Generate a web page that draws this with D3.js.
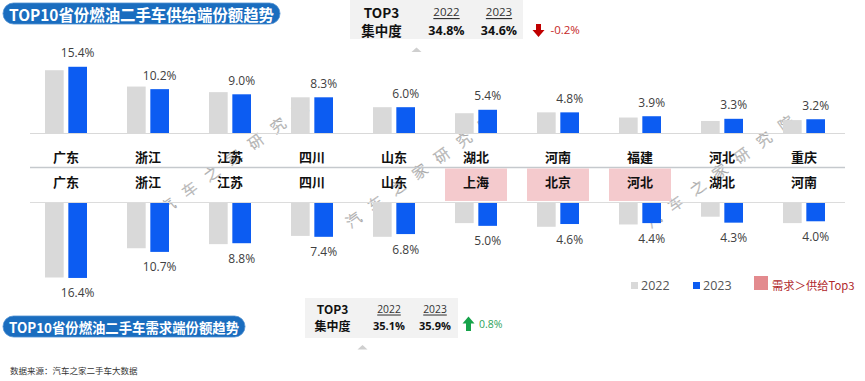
<!DOCTYPE html>
<html><head><meta charset="utf-8">
<script src="https://cdn.jsdelivr.net/npm/d3@7"></script>
<style>html,body{margin:0;padding:0;background:#fff;} svg{display:block;}</style>
</head><body><svg id="c" width="865" height="381"></svg>
<script>
// ---- data ----
const supplyCategories = ["广东","浙江","江苏","四川","山东","湖北","河南","福建","河北","重庆"];
const supply2022 = [14.6, 10.8, 9.5, 8.3, 6.0, 4.6, 4.8, 3.6, 2.8, 3.0];
const supply2023 = [15.4, 10.2, 9.0, 8.3, 6.0, 5.4, 4.8, 3.9, 3.3, 3.2];
const demandCategories = ["广东","浙江","江苏","四川","山东","上海","北京","河北","湖北","河南"];
const demand2022 = [16.3, 9.9, 9.0, 7.2, 7.4, 4.4, 5.2, 4.7, 3.0, 4.4];
const demand2023 = [16.4, 10.7, 8.8, 7.4, 6.8, 5.0, 4.6, 4.4, 4.3, 4.0];
const highlightDemand = ["上海","北京","河北"];
const seriesNames = ["2022","2023"];
const supplyTop3 = ["34.8%","34.6%"];
const supplyTop3Change = "-0.2%";
const demandTop3 = ["35.1%","35.9%"];
const demandTop3Change = "0.8%";
const titleSupply = "TOP10省份燃油二手车供给端份额趋势";
const titleDemand = "TOP10省份燃油二手车需求端份额趋势";
const sourceText = "数据来源：汽车之家二手车大数据";
const legendHighlight = "需求＞供给Top3";
const watermarkText = "汽车之家研究院";

const colors = {"2022":"#d9d9d9","2023":"#0c5cf2"};
const NUM = "'Open Sans','Noto Sans',sans-serif";
const CJK = "'Noto Sans CJK SC','Noto Sans',sans-serif";

const svg = d3.select("#c");
svg.append("rect").attr("width",865).attr("height",381).attr("fill","#fff");

const x0 = d3.scaleBand().domain(d3.range(10)).range([25,845]).paddingInner(40/82).paddingOuter(20/82);
const x1 = d3.scaleBand().domain(seriesNames).range([0,x0.bandwidth()]).paddingInner(0.2);
const yTop = d3.scaleLinear().domain([0,16]).range([133, 133-4.3*16]);
const yBot = d3.scaleLinear().domain([0,16]).range([203, 203+4.57*16]);

// ---- watermarks ----
const wm = svg.append("g").attr("class","watermark");
[[167,205],[353,219],[653,219]].forEach(([sx,sy])=>{
  const ang = -36*Math.PI/180;
  const g = wm.append("g");
  Array.from(watermarkText).forEach((ch,k)=>{
    const px = sx + Math.cos(ang)*27.3*k, py = sy + Math.sin(ang)*27.3*k;
    g.append("text").attr("x",px).attr("y",py)
      .attr("transform",`rotate(-36,${px},${py})`)
      .attr("text-anchor","middle").attr("dominant-baseline","central")
      .attr("font-family",CJK).attr("font-size",15).attr("font-weight",300)
      .attr("fill","none").attr("stroke","#a8a8a8").attr("stroke-width",0.5)
      .text(ch);
  });
});

// ---- title badges ----
function badge(x,y,w,h,txt,fs,tl){
  svg.append("rect").attr("x",x).attr("y",y).attr("width",w).attr("height",h)
    .attr("rx",h/2).attr("fill","#1a6dbf").attr("stroke","#4f8fd0").attr("stroke-width",0.8);
  svg.append("text").attr("x",x+w/2).attr("y",y+h/2+0.5).attr("text-anchor","middle")
    .attr("dominant-baseline","central").attr("font-family",CJK).attr("font-weight","bold")
    .attr("font-size",fs).attr("fill","#fff")
    .attr("textLength",tl).attr("lengthAdjust","spacingAndGlyphs").text(txt);
}
badge(3,3,277,21,titleSupply,16,265);
badge(3,316,242,21,titleDemand,14,230);

// ---- TOP3 boxes ----
function top3Box(o){
  svg.append("rect").attr("x",o.x).attr("y",o.y).attr("width",o.w).attr("height",o.h).attr("fill","#f2f2f2");
  const t = (x,y,s,opts={})=>svg.append("text").attr("x",x).attr("y",y).attr("text-anchor","middle")
    .attr("dominant-baseline","central").attr("font-family",opts.ff||CJK)
    .attr("font-weight",opts.fw||"bold").attr("font-size",opts.fs).attr("fill",opts.fill||"#111")
    .attr("text-decoration",opts.td||null).text(s);
  t(o.cx[0],o.r1,"TOP3",{fs:o.fsH});
  t(o.cx[0],o.r2,"集中度",{fs:o.fsH});
  seriesNames.forEach((s,i)=>{
    t(o.cx[i+1],o.r1,s,{fs:o.fsY,fw:"normal",ff:NUM,fill:"#333",td:"underline"});
    t(o.cx[i+1],o.r2,o.vals[i],{fs:o.fsV,ff:NUM});
  });
}
top3Box({x:350,y:0,w:173,h:39,cx:[381.5,446.5,499],r1:11.5,r2:30,fsH:13.5,fsY:11.5,fsV:12.5,vals:supplyTop3});
top3Box({x:305,y:298,w:153,h:40,cx:[332.5,389,435],r1:308.5,r2:325.5,fsH:12,fsY:10.3,fsV:11,vals:demandTop3});

// pointer triangles
svg.append("path").attr("d","M411.5,52 L416.5,47.5 L421.5,52 Z").attr("fill","#cfcfcf");
svg.append("path").attr("d","M357.5,349.5 L362.5,345 L367.5,349.5 Z").attr("fill","#cfcfcf");

// change arrows
svg.append("path").attr("d","M536,24 L541,24 L541,30 L544.5,30 L538.5,37 L532.5,30 L536,30 Z").attr("fill","#c00000");
svg.append("text").attr("x",550.5).attr("y",29.5).attr("dominant-baseline","central")
  .attr("font-family",NUM).attr("font-size",11.5).attr("fill","#c62828").text(supplyTop3Change);
svg.append("path").attr("d","M466,331 L471,331 L471,323.5 L474.5,323.5 L468.5,316.5 L462.5,323.5 L466,323.5 Z").attr("fill","#16a34a");
svg.append("text").attr("x",479).attr("y",323.5).attr("dominant-baseline","central")
  .attr("font-family",NUM).attr("font-size",10.5).attr("fill","#2ea25a").text(demandTop3Change);

// ---- separator lines ----
svg.append("line").attr("x1",30).attr("x2",845).attr("y1",133.5).attr("y2",133.5).attr("stroke","#d9d9d9").attr("stroke-width",1);
svg.append("line").attr("x1",30).attr("x2",845).attr("y1",167.5).attr("y2",167.5).attr("stroke","#c5c9cd").attr("stroke-width",1.5);
svg.append("line").attr("x1",30).attr("x2",845).attr("y1",202.5).attr("y2",202.5).attr("stroke","#dcdcdc").attr("stroke-width",1);

// highlight boxes
svg.append("g").selectAll("rect").data(demandCategories.map((c,i)=>({c,i})).filter(d=>highlightDemand.includes(d.c)))
  .join("rect").attr("x",d=>x0(d.i)+x0.bandwidth()/2-31).attr("y",168.5).attr("width",62).attr("height",32.5)
  .attr("fill","#f4cacd");

// ---- bars ----
const supplyRows = supplyCategories.map((c,i)=>({i, vals:[supply2022[i],supply2023[i]]}));
const demandRows = demandCategories.map((c,i)=>({i, vals:[demand2022[i],demand2023[i]]}));

svg.append("g").selectAll("g").data(supplyRows).join("g")
  .attr("transform",d=>`translate(${x0(d.i)},0)`)
  .selectAll("rect").data(d=>seriesNames.map((s,k)=>({s,v:d.vals[k]}))).join("rect")
  .attr("x",d=>x1(d.s)).attr("width",x1.bandwidth())
  .attr("y",d=>yTop(d.v)).attr("height",d=>yTop(0)-yTop(d.v)).attr("fill",d=>colors[d.s]);

svg.append("g").selectAll("g").data(demandRows).join("g")
  .attr("transform",d=>`translate(${x0(d.i)},0)`)
  .selectAll("rect").data(d=>seriesNames.map((s,k)=>({s,v:d.vals[k]}))).join("rect")
  .attr("x",d=>x1(d.s)).attr("width",x1.bandwidth())
  .attr("y",yBot(0)).attr("height",d=>yBot(d.v)-yBot(0)).attr("fill",d=>colors[d.s]);

// value labels
const blueCx = i => x0(i)+x1("2023")+x1.bandwidth()/2;
svg.append("g").selectAll("text").data(supply2023).join("text")
  .attr("x",(d,i)=>blueCx(i)).attr("y",d=>yTop(d)-14).attr("text-anchor","middle").attr("dominant-baseline","central")
  .attr("font-family",NUM).attr("font-size",12).attr("fill","#404040").text(d=>d.toFixed(1)+"%");
svg.append("g").selectAll("text").data(demand2023).join("text")
  .attr("x",(d,i)=>blueCx(i)).attr("y",d=>yBot(d)+15).attr("text-anchor","middle").attr("dominant-baseline","central")
  .attr("font-family",NUM).attr("font-size",12).attr("fill","#404040").text(d=>d.toFixed(1)+"%");

// category labels
svg.append("g").selectAll("text").data(supplyCategories).join("text")
  .attr("x",(d,i)=>x0(i)+x0.bandwidth()/2).attr("y",156.5).attr("text-anchor","middle").attr("dominant-baseline","central")
  .attr("font-family",CJK).attr("font-weight","bold").attr("font-size",13).attr("fill","#111").text(d=>d);
svg.append("g").selectAll("text").data(demandCategories).join("text")
  .attr("x",(d,i)=>x0(i)+x0.bandwidth()/2).attr("y",181).attr("text-anchor","middle").attr("dominant-baseline","central")
  .attr("font-family",CJK).attr("font-weight","bold").attr("font-size",13).attr("fill","#111").text(d=>d);

// ---- legend ----
const lg = svg.append("g");
lg.append("rect").attr("x",631).attr("y",282).attr("width",7).attr("height",7).attr("fill",colors["2022"]);
lg.append("text").attr("x",641).attr("y",285.5).attr("dominant-baseline","central").attr("font-family",NUM)
  .attr("font-size",12.5).attr("fill","#555").text(seriesNames[0]);
lg.append("rect").attr("x",693).attr("y",282).attr("width",7).attr("height",7).attr("fill",colors["2023"]);
lg.append("text").attr("x",703).attr("y",285.5).attr("dominant-baseline","central").attr("font-family",NUM)
  .attr("font-size",12.5).attr("fill","#555").text(seriesNames[1]);
lg.append("rect").attr("x",754).attr("y",276).attr("width",14).attr("height",14).attr("fill","#e38a8e");
lg.append("text").attr("x",772).attr("y",285).attr("dominant-baseline","central").attr("font-family",CJK)
  .attr("font-size",11.3).attr("fill","#b0282c").text(legendHighlight);

// ---- source ----
svg.append("text").attr("x",10).attr("y",370).attr("dominant-baseline","central").attr("font-family",CJK)
  .attr("font-size",8.5).attr("fill","#333").text(sourceText);
</script></body></html>
